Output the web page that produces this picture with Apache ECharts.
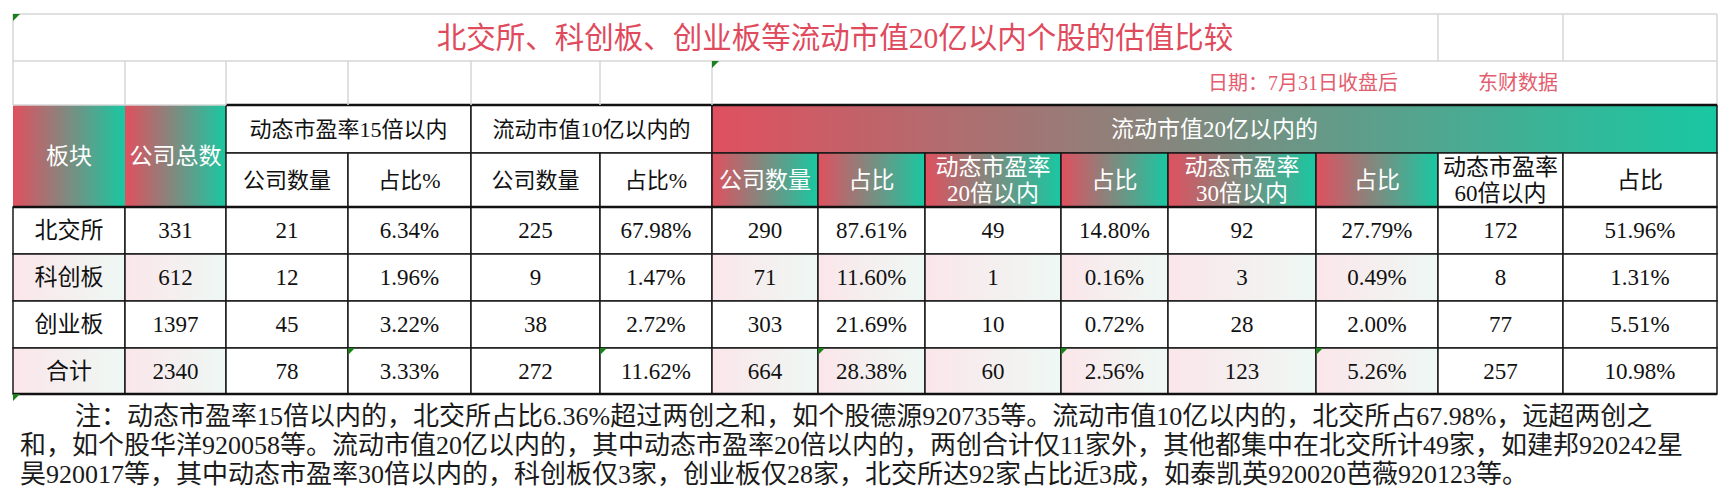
<!DOCTYPE html>
<html>
<head>
<meta charset="utf-8">
<title>北交所、科创板、创业板估值比较</title>
<script src="https://cdn.jsdelivr.net/npm/echarts@6/dist/echarts.min.js"></script>
<style>
html,body{margin:0;padding:0;background:#fff;}
#chart{width:1731px;height:500px;}
</style>
</head>
<body>
<div id="chart"></div>
<script>
// 数据
var boards = ['北交所', '科创板', '创业板', '合计'];
var totalCount = [331, 612, 1397, 2340];
var pe15Count = [21, 12, 45, 78];
var pe15Share = [6.34, 1.96, 3.22, 3.33];
var cap10Count = [225, 9, 38, 272];
var cap10Share = [67.98, 1.47, 2.72, 11.62];
var cap20Count = [290, 71, 303, 664];
var cap20Share = [87.61, 11.60, 21.69, 28.38];
var pe20Count = [49, 1, 10, 60];
var pe20Share = [14.80, 0.16, 0.72, 2.56];
var pe30Count = [92, 3, 28, 123];
var pe30Share = [27.79, 0.49, 2.00, 5.26];
var pe60Count = [172, 8, 77, 257];
var pe60Share = [51.96, 1.31, 5.51, 10.98];

var titleText = '北交所、科创板、创业板等流动市值20亿以内个股的估值比较';
var dateText = '日期：7月31日收盘后';
var sourceText = '东财数据';
var sideHeads = ['板块', '公司总数'];
var groupHeads = ['动态市盈率15倍以内', '流动市值10亿以内的', '流动市值20亿以内的'];
var subHeads = ['公司数量', '占比%', '公司数量', '占比%', '公司数量', '占比',
                '动态市盈率\n20倍以内', '占比', '动态市盈率\n30倍以内', '占比', '动态市盈率\n60倍以内', '占比'];
var noteLines = [
  '注：动态市盈率15倍以内的，北交所占比6.36%超过两创之和，如个股德源920735等。流动市值10亿以内的，北交所占67.98%，远超两创之',
  '和，如个股华洋920058等。流动市值20亿以内的，其中动态市盈率20倍以内的，两创合计仅11家外，其他都集中在北交所计49家，如建邦920242星',
  '昊920017等，其中动态市盈率30倍以内的，科创板仅3家，创业板仅28家，北交所达92家占比近3成，如泰凯英920020芭薇920123等。'
];

// 版式（图片像素）
var colEdges = [13, 125, 226, 348, 471, 600, 712, 818, 925, 1061, 1168, 1316, 1438, 1563, 1717];
var rowEdges = [14, 61, 105, 153, 207, 254, 301, 348, 394];
var gradCols = [0, 1, 6, 7, 8, 9, 10, 11];
// 绿色小三角 [列, 行]
var markCorners = [[0, 0], [6, 1], [3, 7], [5, 7], [7, 7], [9, 7], [11, 7], [0, 8]];
// 注释行：起点与中线
var noteX = [75, 20, 20];
var noteY = [416, 445, 474];

var RED = '#e0505f', TEAL = '#18c8a2';
var FONT = "'Liberation Serif', 'Noto Sans CJK SC', serif";
var fills = {
  head: function(){ return new echarts.graphic.LinearGradient(0, 0, 1, 0, [{offset: 0, color: RED}, {offset: 1, color: TEAL}]); },
  soft: function(){ return new echarts.graphic.LinearGradient(0, 0, 1, 0, [{offset: 0, color: '#fbe6ea'}, {offset: 1, color: '#eef8f4'}]); },
  white: function(){ return '#ffffff'; }
};

function pct(v){ return v.toFixed(2) + '%'; }

var cells = [];
function addCell(c0, c1, r0, r1, text, fill, size, stroke){
  cells.push({c0: c0, c1: c1, r0: r0, r1: r1, text: String(text), fill: fill,
              color: fill == 'head' ? '#ffffff' : '#111111', size: size, stroke: stroke});
}

// 表头
addCell(0, 1, 2, 4, sideHeads[0], 'head', 23, false);
addCell(1, 2, 2, 4, sideHeads[1], 'head', 23, false);
addCell(2, 4, 2, 3, groupHeads[0], 'white', 22, true);
addCell(4, 6, 2, 3, groupHeads[1], 'white', 22, true);
addCell(6, 14, 2, 3, groupHeads[2], 'head', 23, true);
for (var i = 0; i < subHeads.length; i++) {
  var col = 2 + i;
  addCell(col, col + 1, 3, 4, subHeads[i], gradCols.indexOf(col) > -1 ? 'head' : 'white', col >= 6 ? 23 : 22, true);
}
// 数据行
for (var r = 0; r < boards.length; r++) {
  var row = [boards[r], totalCount[r], pe15Count[r], pct(pe15Share[r]), cap10Count[r], pct(cap10Share[r]),
             cap20Count[r], pct(cap20Share[r]), pe20Count[r], pct(pe20Share[r]),
             pe30Count[r], pct(pe30Share[r]), pe60Count[r], pct(pe60Share[r])];
  for (var c = 0; c < row.length; c++) {
    var soft = (r % 2 == 1) && gradCols.indexOf(c) > -1;
    addCell(c, c + 1, 4 + r, 5 + r, row[c], soft ? 'soft' : 'white', 23, true);
  }
}

// 线条 [x0, y0, x1, y1, 类型]
var L = colEdges.length - 1;
var rules = [
  [colEdges[0], rowEdges[0], colEdges[L], rowEdges[0], 'light'],
  [colEdges[0], rowEdges[1], colEdges[L], rowEdges[1], 'light'],
  [colEdges[0], rowEdges[2], colEdges[2], rowEdges[2], 'light'],
  [colEdges[0], rowEdges[0], colEdges[0], rowEdges[2], 'light'],
  [colEdges[L], rowEdges[0], colEdges[L], rowEdges[2], 'light'],
  [colEdges[12], rowEdges[0], colEdges[12], rowEdges[1], 'light'],
  [colEdges[13], rowEdges[0], colEdges[13], rowEdges[1], 'light'],
  [colEdges[2], rowEdges[2], colEdges[L], rowEdges[2], 'bold'],
  [colEdges[0], rowEdges[4], colEdges[L], rowEdges[4], 'bold'],
  [colEdges[0], rowEdges[8], colEdges[L], rowEdges[8], 'bold']
];
for (var k = 1; k <= 6; k++) {
  rules.push([colEdges[k], rowEdges[1], colEdges[k], rowEdges[2], 'light']);
}

var noteGraphics = noteLines.map(function(line, i){
  return {
    type: 'text', x: noteX[i], y: noteY[i],
    style: {
      text: line, fill: '#1a1a1a', fontSize: 26, lineHeight: 26, fontFamily: FONT,
      align: 'left', verticalAlign: 'middle', textAlign: 'left', textVerticalAlign: 'middle'
    }
  };
});

var chart = echarts.init(document.getElementById('chart'), null, {renderer: 'svg'});
var option = {
  animation: false,
  backgroundColor: '#ffffff',
  grid: {left: 0, right: 0, top: 0, bottom: 0},
  xAxis: {type: 'value', min: 0, max: 1731, show: false},
  yAxis: {type: 'value', min: 0, max: 500, inverse: true, show: false},
  graphic: [
    {type: 'text', x: 835, y: 38, style: {text: titleText, fill: '#e04a5d', fontSize: 29.5, lineHeight: 32,
      fontFamily: FONT, align: 'center', verticalAlign: 'middle', textAlign: 'center', textVerticalAlign: 'middle'}},
    {type: 'text', x: 1208, y: 83, style: {text: dateText, fill: '#e35d6e', fontSize: 20, lineHeight: 22,
      fontFamily: FONT, align: 'left', verticalAlign: 'middle', textAlign: 'left', textVerticalAlign: 'middle'}},
    {type: 'text', x: 1478, y: 83, style: {text: sourceText, fill: '#e35d6e', fontSize: 20, lineHeight: 22,
      fontFamily: FONT, align: 'left', verticalAlign: 'middle', textAlign: 'left', textVerticalAlign: 'middle'}}
  ].concat(noteGraphics),
  series: [
    {
      type: 'custom', name: 'cells', silent: true, coordinateSystem: 'cartesian2d',
      encode: {x: [0, 2], y: [1, 3]},
      data: cells.map(function(c){ return [colEdges[c.c0], rowEdges[c.r0], colEdges[c.c1], rowEdges[c.r1]]; }),
      renderItem: function(params, api){
        var cell = cells[params.dataIndex];
        var p0 = api.coord([api.value(0), api.value(1)]);
        var p1 = api.coord([api.value(2), api.value(3)]);
        return {
          type: 'rect',
          shape: {x: p0[0], y: p0[1], width: p1[0] - p0[0], height: p1[1] - p0[1]},
          style: {fill: fills[cell.fill](), stroke: cell.stroke ? '#1a1a1a' : null, lineWidth: 1.5},
          textContent: {
            style: {text: cell.text, fill: cell.color, fontSize: cell.size, fontFamily: FONT,
                    lineHeight: 26, align: 'center'}
          },
          textConfig: {position: 'inside'}
        };
      }
    },
    {
      type: 'custom', name: 'rules', silent: true, coordinateSystem: 'cartesian2d',
      encode: {x: [0, 2], y: [1, 3]},
      data: rules,
      renderItem: function(params, api){
        var kind = rules[params.dataIndex][4];
        var p0 = api.coord([api.value(0), api.value(1)]);
        var p1 = api.coord([api.value(2), api.value(3)]);
        return {
          type: 'line',
          shape: {x1: p0[0], y1: p0[1], x2: p1[0], y2: p1[1]},
          style: kind == 'bold' ? {stroke: '#111111', lineWidth: 2.5} : {stroke: '#d6d6d6', lineWidth: 1.5}
        };
      }
    },
    {
      type: 'custom', name: 'marks', silent: true, coordinateSystem: 'cartesian2d',
      data: markCorners.map(function(m){ return [colEdges[m[0]], rowEdges[m[1]]]; }),
      renderItem: function(params, api){
        var p = api.coord([api.value(0), api.value(1)]);
        return {
          type: 'polygon',
          shape: {points: [[p[0], p[1]], [p[0] + 7, p[1]], [p[0], p[1] + 7]]},
          style: {fill: '#1b7f1b'}
        };
      }
    }
  ]
};
chart.setOption(option);
</script>
</body>
</html>
